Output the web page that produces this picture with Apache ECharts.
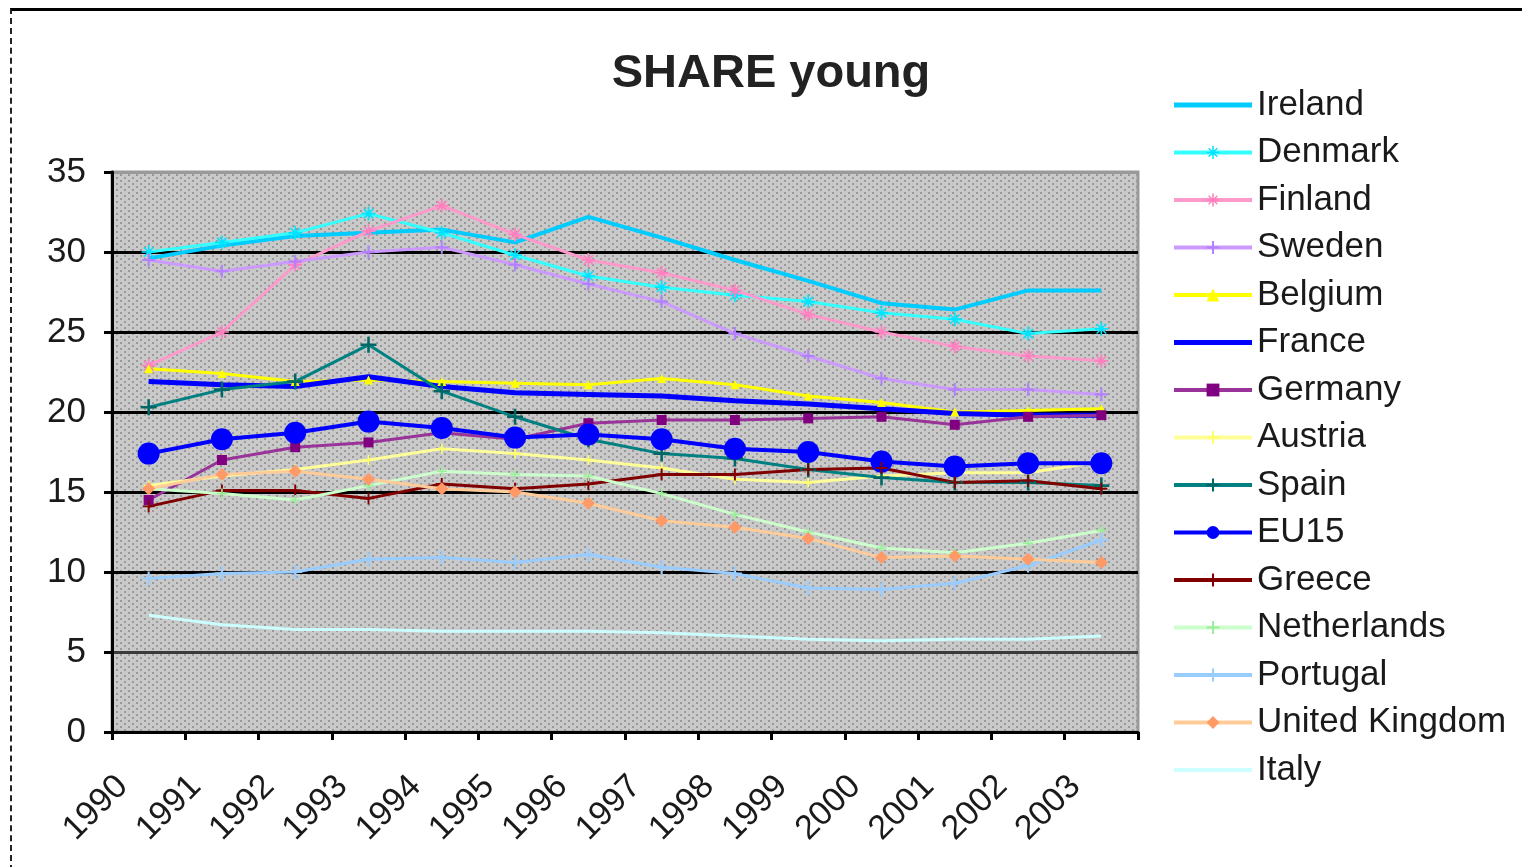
<!DOCTYPE html>
<html>
<head>
<meta charset="utf-8">
<script src="https://cdn.jsdelivr.net/npm/echarts@6/dist/echarts.min.js"></script>
<style>
html,body{margin:0;padding:0;background:#fff;}
#wrap{position:relative;width:1522px;height:867px;overflow:hidden;}
#chart{position:absolute;left:0;top:0;width:1522px;height:867px;}
#frame{position:absolute;left:10px;top:8px;width:1520px;height:870px;border-top:3px solid #000;border-left:2px dashed #222;pointer-events:none;}
</style>
</head>
<body>
<div id="wrap"><div id="chart"></div><div id="frame"></div></div>
<script>
const years = ['1990','1991','1992','1993','1994','1995','1996','1997','1998','1999','2000','2001','2002','2003'];
const yTicks = [0, 5, 10, 15, 20, 25, 30, 35];

const ireland     = [29.6, 30.4, 31.0, 31.2, 31.4, 30.6, 32.2, 30.9, 29.5, 28.2, 26.8, 26.4, 27.6, 27.6];
const denmark     = [30.0, 30.6, 31.2, 32.4, 31.2, 29.8, 28.5, 27.8, 27.3, 26.9, 26.2, 25.8, 24.9, 25.2];
const finland     = [22.9, 25.0, 29.2, 31.3, 32.9, 31.1, 29.5, 28.7, 27.6, 26.1, 25.0, 24.1, 23.5, 23.2];
const sweden      = [29.5, 28.8, 29.4, 30.0, 30.3, 29.2, 28.0, 26.9, 24.9, 23.5, 22.1, 21.4, 21.4, 21.1];
const belgium     = [22.7, 22.4, 21.9, 22.0, 21.9, 21.8, 21.7, 22.1, 21.7, 21.0, 20.6, 20.0, 20.1, 20.2];
const france      = [21.9, 21.7, 21.6, 22.2, 21.6, 21.2, 21.1, 21.0, 20.7, 20.5, 20.2, 19.9, 19.8, 19.8];
const germany     = [14.5, 17.0, 17.8, 18.1, 18.7, 18.3, 19.3, 19.5, 19.5, 19.6, 19.7, 19.2, 19.7, 19.8];
const austria     = [15.4, 16.0, 16.4, 17.0, 17.7, 17.4, 17.0, 16.5, 15.8, 15.6, 16.0, 16.2, 16.2, 16.9];
const spain       = [20.3, 21.4, 21.9, 24.2, 21.3, 19.7, 18.3, 17.4, 17.1, 16.4, 15.9, 15.6, 15.6, 15.4];
const eu15        = [17.4, 18.3, 18.7, 19.4, 19.0, 18.4, 18.6, 18.3, 17.7, 17.5, 16.9, 16.6, 16.8, 16.8];
const greece      = [14.1, 15.1, 15.1, 14.6, 15.5, 15.2, 15.5, 16.1, 16.1, 16.4, 16.5, 15.6, 15.7, 15.2];
const netherlands = [15.2, 14.9, 14.5, 15.4, 16.3, 16.1, 16.0, 14.9, 13.6, 12.5, 11.5, 11.2, 11.8, 12.6];
const portugal    = [9.6, 9.9, 10.0, 10.8, 10.9, 10.6, 11.1, 10.3, 9.9, 9.0, 8.9, 9.3, 10.4, 12.0];
const uk          = [15.2, 16.1, 16.3, 15.8, 15.2, 15.0, 14.3, 13.2, 12.8, 12.1, 10.9, 11.0, 10.8, 10.6];
const italy       = [7.3, 6.7, 6.4, 6.4, 6.3, 6.3, 6.3, 6.2, 6.0, 5.8, 5.7, 5.8, 5.8, 6.0];

const PLUS = 'path://M4.2,0H5.8V4.2H10V5.8H5.8V10H4.2V5.8H0V4.2H4.2Z';
const STAR = 'path://M4.4,0H5.6V10H4.4Z M0,4.4H10V5.6H0Z M1.2,2 L2,1.2 L8.8,8 L8,8.8Z M8,1.2 L8.8,2 L2,8.8 L1.2,8Z';
function barIcon(t) {
  const a = (16 - t) / 2, b = a + t;
  return 'path://M0,0h0.01v0.01H0Z M0,' + a + 'H78V' + b + 'H0Z M77.99,15.99h0.01v0.01h-0.01Z';
}

function mk(name, data, color, width, symbol, size, symColor) {
  return {
    name: name, type: 'line', data: data,
    symbol: symbol || 'none', symbolSize: size || 0, showSymbol: !!symbol,
    lineStyle: { color: color, width: width },
    itemStyle: { color: symColor || color, borderWidth: 0 },
    emphasis: { disabled: true },
    animation: false
  };
}

const series = [
  mk('Ireland', ireland, '#00ccff', 4),
  mk('Denmark', denmark, '#33ffff', 3, STAR, 14, '#00e5ff'),
  mk('Finland', finland, '#ff99cc', 3, STAR, 14, '#ff80bf'),
  mk('Sweden', sweden, '#cc99ff', 3, PLUS, 13, '#b380ff'),
  mk('Belgium', belgium, '#ffff00', 3, 'triangle', 9, '#ffff00'),
  mk('France', france, '#0000ff', 5),
  mk('Germany', germany, '#993399', 3, 'rect', 10, '#800080'),
  mk('Austria', austria, '#ffff99', 3, PLUS, 10, '#ffff66'),
  mk('Spain', spain, '#008080', 3, PLUS, 16, '#006666'),
  mk('EU15', eu15, '#0000ff', 4, 'circle', 22, '#0000ff'),
  mk('Greece', greece, '#800000', 3, PLUS, 12, '#800000'),
  mk('Netherlands', netherlands, '#ccffcc', 3, PLUS, 10, '#99ee99'),
  mk('Portugal', portugal, '#99ccff', 3, PLUS, 14, '#99ccff'),
  mk('United Kingdom', uk, '#ffcc99', 3, 'diamond', 13, '#ff9966'),
  mk('Italy', italy, '#ccffff', 3)
];

const legendIcons = { 'Ireland': barIcon(5), 'France': barIcon(5), 'Italy': barIcon(4) };
const legendData = series.map(s => legendIcons[s.name] ? { name: s.name, icon: legendIcons[s.name] } : { name: s.name });

// dotted plot-area fill
const pc = document.createElement('canvas');
pc.width = 8; pc.height = 6;
const px = pc.getContext('2d');
px.fillStyle = '#c9c9c9'; px.fillRect(0, 0, 8, 6);
px.fillStyle = '#999999';
px.fillRect(0, 0, 2, 2);
px.fillRect(4, 3, 2, 2);

const FONT = '"Liberation Sans", Arial, sans-serif';
const chart = echarts.init(document.getElementById('chart'), null, { renderer: 'canvas' });
chart.setOption({
  backgroundColor: '#ffffff',
  animation: false,
  title: {
    text: 'SHARE young', left: 766, top: 46, textAlign: 'center',
    textStyle: { fontFamily: FONT, fontSize: 47, fontWeight: 'bold', color: '#222' }
  },
  legend: {
    orient: 'vertical', left: 1172, top: 87, padding: 0,
    itemWidth: 78, itemHeight: 16, itemGap: 11.5,
    lineStyle: { width: 4 },
    textStyle: { fontFamily: FONT, fontSize: 35, color: '#1a1a1a', lineHeight: 36 },
    selectedMode: false,
    data: legendData
  },
  grid: {
    left: 112, right: 384, top: 172, bottom: 135,
    show: true, backgroundColor: { image: pc, repeat: 'repeat' },
    borderColor: '#9a9a9a', borderWidth: 3
  },
  xAxis: {
    type: 'category', data: years, boundaryGap: true,
    axisLine: { lineStyle: { color: '#000', width: 3 } },
    axisTick: { show: true, length: 8, lineStyle: { color: '#000', width: 3 }, alignWithLabel: false },
    axisLabel: { rotate: 45, margin: 23, padding: [0, 37, 0, 0], fontFamily: FONT, fontSize: 34, color: '#1a1a1a', interval: 0 },
    splitLine: { show: false }
  },
  yAxis: {
    type: 'value', min: yTicks[0], max: yTicks[yTicks.length - 1], interval: 5,
    axisLine: { show: true, lineStyle: { color: '#000', width: 3 } },
    axisTick: { show: true, length: 8, lineStyle: { color: '#000', width: 3 } },
    axisLabel: { margin: 26, fontFamily: FONT, fontSize: 35, color: '#1a1a1a' },
    splitLine: { show: true, lineStyle: { color: ['#000', '#3a3a3a', '#000', '#000', '#000', '#000', '#000', '#9a9a9a'], width: 3 } }
  },
  series: series
});
</script>
</body>
</html>
